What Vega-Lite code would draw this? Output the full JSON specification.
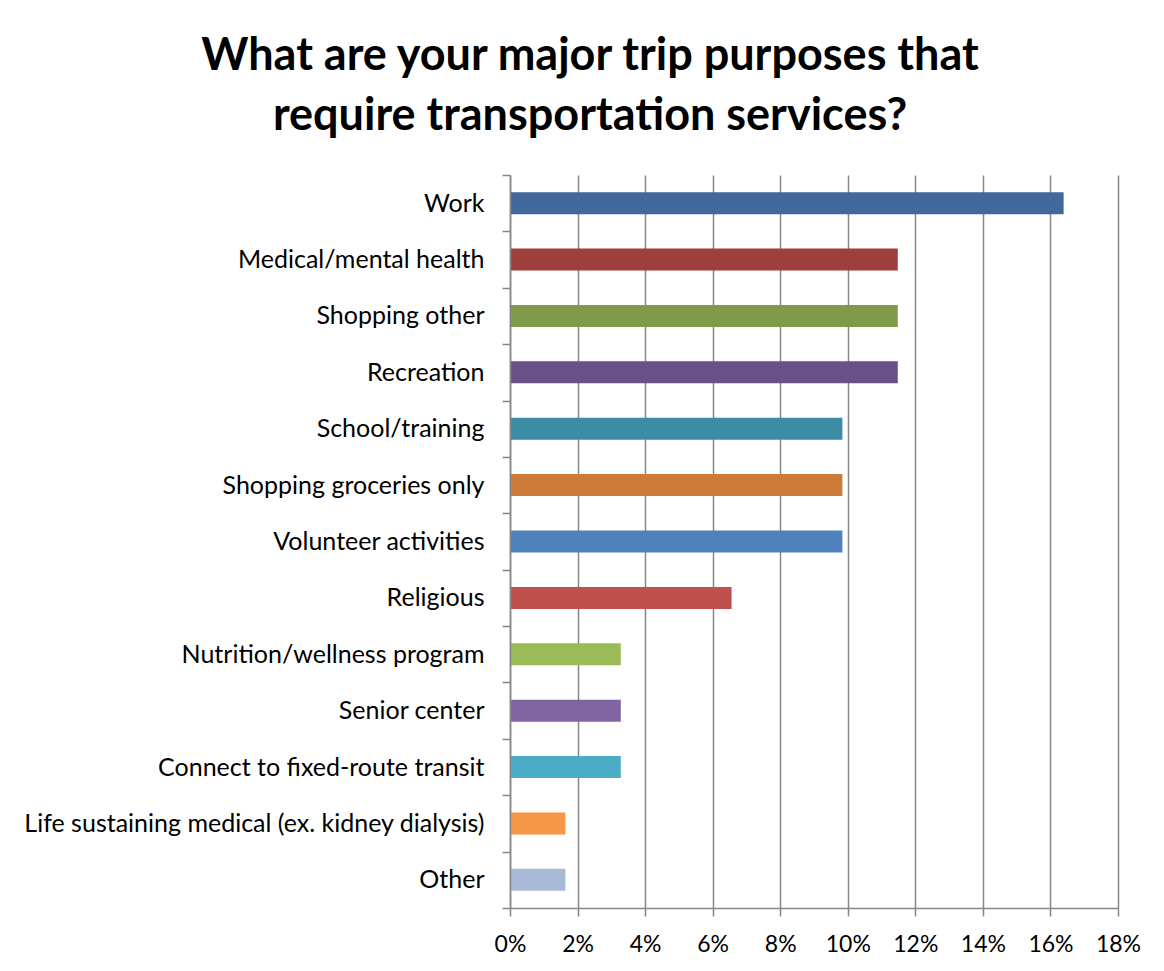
{
  "$schema": "https://vega.github.io/schema/vega-lite/v6.json",
  "width": 608,
  "height": 733,
  "autosize": {"type": "none"},
  "padding": {"left": 510, "top": 175, "right": 46, "bottom": 63},
  "background": "white",
  "title": {
    "text": ["What are your major trip purposes that", "require transportation services?"],
    "font": "Lato",
    "fontSize": 45,
    "fontWeight": "bold",
    "color": "#000000",
    "anchor": "middle",
    "dx": -224,
    "offset": 24,
    "lineHeight": 60
  },
  "data": {
    "values": [
      {"purpose": "Work", "pct": 0.1639, "color": "#41699C"},
      {"purpose": "Medical/mental health", "pct": 0.1148, "color": "#9E3F3D"},
      {"purpose": "Shopping other", "pct": 0.1148, "color": "#7F9A48"},
      {"purpose": "Recreation", "pct": 0.1148, "color": "#695086"},
      {"purpose": "School/training", "pct": 0.0984, "color": "#3C8DA3"},
      {"purpose": "Shopping groceries only", "pct": 0.0984, "color": "#CC7B38"},
      {"purpose": "Volunteer activities", "pct": 0.0984, "color": "#4F81BD"},
      {"purpose": "Religious", "pct": 0.0656, "color": "#C0504D"},
      {"purpose": "Nutrition/wellness program", "pct": 0.0328, "color": "#9BBB59"},
      {"purpose": "Senior center", "pct": 0.0328, "color": "#8064A2"},
      {"purpose": "Connect to fixed-route transit", "pct": 0.0328, "color": "#4BACC6"},
      {"purpose": "Life sustaining medical (ex. kidney dialysis)", "pct": 0.0164, "color": "#F79646"},
      {"purpose": "Other", "pct": 0.0164, "color": "#A9B9D8"}
    ]
  },
  "mark": {"type": "bar", "height": {"band": 0.39}},
  "encoding": {
    "y": {
      "field": "purpose",
      "type": "nominal",
      "sort": null,
      "scale": {"paddingInner": 0, "paddingOuter": 0},
      "axis": {
        "title": null,
        "tickBand": "extent",
        "domainColor": "#868686",
        "domainWidth": 1.5,
        "tickColor": "#868686",
        "tickWidth": 1.5,
        "tickSize": 8,
        "labelFont": "Lato",
        "labelFontSize": 25,
        "labelColor": "#000000",
        "labelPadding": 18,
        "labelLimit": 600,
        "grid": false,
        "zindex": 1
      }
    },
    "x": {
      "field": "pct",
      "type": "quantitative",
      "scale": {"domain": [0, 0.18], "nice": false},
      "axis": {
        "title": null,
        "values": [0, 0.02, 0.04, 0.06, 0.08, 0.1, 0.12, 0.14, 0.16, 0.18],
        "format": ".0%",
        "grid": true,
        "gridColor": "#868686",
        "gridWidth": 1.5,
        "domainColor": "#868686",
        "domainWidth": 1.5,
        "tickColor": "#868686",
        "tickWidth": 1.5,
        "tickSize": 8,
        "labelFont": "Lato",
        "labelFontSize": 23,
        "labelColor": "#000000",
        "labelPadding": 17,
        "labelFlush": false
      }
    },
    "color": {"field": "color", "type": "nominal", "scale": null, "legend": null}
  },
  "config": {
    "view": {"stroke": null}
  }
}
